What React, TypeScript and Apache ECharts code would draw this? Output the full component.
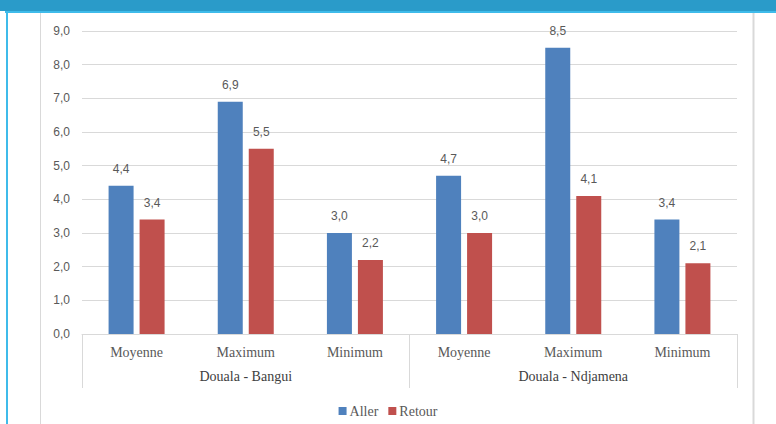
import React, { useEffect, useRef } from "react";
import * as echarts from "echarts";

const categories = ["Moyenne", "Maximum", "Minimum", "Moyenne", "Maximum", "Minimum"];
const groups = ["Douala - Bangui", "Douala - Ndjamena"];
const aller = [4.4, 6.9, 3.0, 4.7, 8.5, 3.4];
const retour = [3.4, 5.5, 2.2, 3.0, 4.1, 2.1];
const seriesNames = ["Aller", "Retour"];

const fmt = (v: number) => v.toFixed(1).replace(".", ",");

export default function App() {
  const ref = useRef<HTMLDivElement>(null);
  useEffect(() => {
    if (!ref.current) return;
    const chart = echarts.init(ref.current, null, { renderer: "svg" });
    const serif = "Liberation Serif";
    const sans = "Liberation Sans";
    const labelStyle = {
      show: true,
      position: "top" as const,
      distance: 11,
      fontFamily: sans,
      fontSize: 12,
      color: "#595959",
      formatter: (p: any) => fmt(p.value),
    };
    chart.setOption({
      animation: false,
      backgroundColor: "#ffffff",
      textStyle: { fontFamily: serif },
      graphic: [
        { type: "rect", shape: { x: 0, y: 0, width: 776, height: 11 }, style: { fill: "#2a9bc9" }, z: 10 },
        { type: "rect", shape: { x: 5, y: 11, width: 771, height: 2 }, style: { fill: "#3fbbea" }, z: 10 },
        { type: "rect", shape: { x: 6, y: 12, width: 2, height: 412 }, style: { fill: "#3fbbea" }, z: 10 },
        { type: "line", shape: { x1: 40.5, y1: 13, x2: 40.5, y2: 424 }, style: { stroke: "#d9d9d9", lineWidth: 1 }, z: 10 },
        { type: "line", shape: { x1: 753.5, y1: 13, x2: 753.5, y2: 424 }, style: { stroke: "#d9d9d9", lineWidth: 2 }, z: 10 },
      ],
      legend: {
        data: seriesNames,
        top: 399,
        left: "center",
        itemWidth: 8,
        itemHeight: 8,
        itemGap: 10,
        icon: "rect",
        textStyle: { fontFamily: serif, fontSize: 14, color: "#595959", padding: [0, 0, 0, -2] },
      },
      grid: { left: 82, right: 39, top: 31, bottom: 90, containLabel: false },
      xAxis: [
        {
          type: "category",
          data: categories,
          position: "bottom",
          axisLine: { show: true, lineStyle: { color: "#d9d9d9", width: 1 } },
          axisTick: { show: false },
          axisLabel: { margin: 11, fontFamily: serif, fontSize: 14, color: "#595959", interval: 0 },
        },
        {
          type: "category",
          data: groups,
          position: "bottom",
          axisLine: { show: false },
          axisTick: { show: true, length: 54, lineStyle: { color: "#d9d9d9", width: 1 } },
          axisLabel: { margin: 35, fontFamily: serif, fontSize: 14, color: "#404040", interval: 0 },
        },
      ],
      yAxis: {
        type: "value",
        min: 0,
        max: 9,
        interval: 1,
        axisLine: { show: false },
        axisTick: { show: false },
        splitLine: { lineStyle: { color: "#d9d9d9", width: 1 } },
        axisLabel: { margin: 12, fontFamily: sans, fontSize: 12, color: "#595959", formatter: (v: number) => fmt(v) },
      },
      series: [
        {
          name: seriesNames[0],
          type: "bar",
          data: aller,
          barWidth: 25,
          barGap: "24%",
          itemStyle: { color: "#4f81bd" },
          label: labelStyle,
        },
        {
          name: seriesNames[1],
          type: "bar",
          data: retour,
          barWidth: 25,
          barGap: "24%",
          itemStyle: { color: "#c0504d" },
          label: labelStyle,
        },
      ],
    });
    return () => chart.dispose();
  }, []);
  return <div ref={ref} style={{ width: 776, height: 424, position: "fixed", left: 0, top: 0 }} />;
}
